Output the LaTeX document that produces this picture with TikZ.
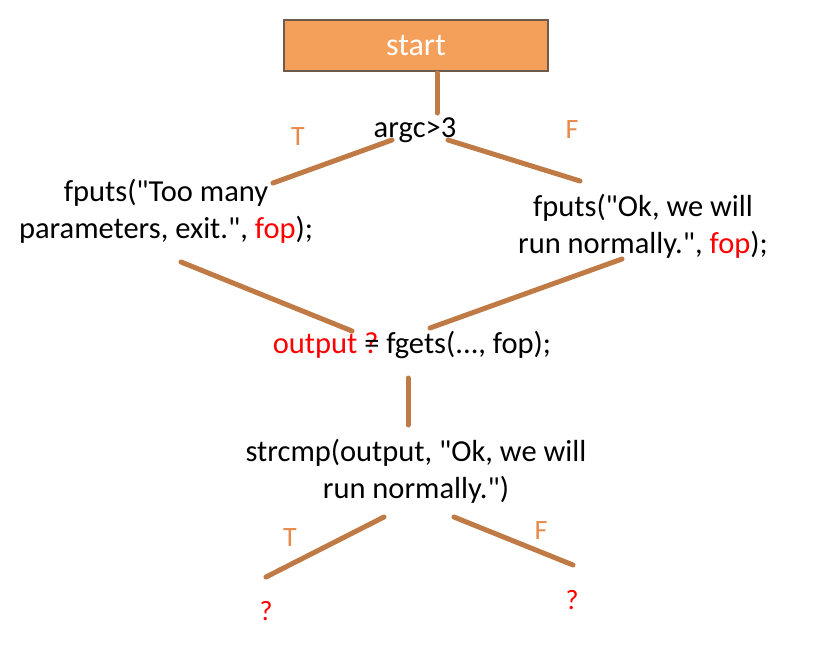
\documentclass[tikz,border=0pt]{standalone}
\usepackage{fontspec}
\setmainfont{Carlito}[Ligatures=TeXOff]
\definecolor{boxfill}{HTML}{F4A05A}
\definecolor{boxdraw}{HTML}{6E5A4A}
\definecolor{linec}{HTML}{C07A45}
\definecolor{tfc}{HTML}{E88A4C}
\definecolor{redc}{HTML}{FF0000}
\begin{document}
\begin{tikzpicture}[x=1pt,y=-1pt,
  txt/.style={font=\fontsize{30.5}{37}\selectfont, inner sep=0pt, align=center},
  tf/.style={font=\fontsize{28}{32}\selectfont, text=tfc, inner sep=0pt},
  qm/.style={font=\fontsize{28}{32}\selectfont, text=redc, inner sep=0pt},
  conn/.style={draw=linec, line width=5pt, line cap=round}]
\useasboundingbox (0,0) rectangle (836,665);
\node[draw=boxdraw, line width=1.2pt, fill=boxfill, minimum width=264pt, minimum height=51pt, inner sep=0pt, font=\fontsize{32}{36}\selectfont, text=white] (start) at (416,45.5) {start};
\node[txt] (argc) at (415,130) {argc>3};
\node[txt] (left) at (166,211) {fputs("Too many\\parameters, exit.", \textcolor{redc}{fop});};
\node[txt] (right) at (643,226) {fputs("Ok, we will\\run normally.", \textcolor{redc}{fop});};
\node[txt] (out) at (412,345) {\textcolor{redc}{output} \rlap{\textcolor{redc}{?}}= fgets(..., fop);};
\node[txt] (cmp) at (416,471) {strcmp(output, "Ok, we will\\run normally.")};
\node[tf] (t1) at (298,137) {T};
\node[tf] (f1) at (572,130) {F};
\node[tf] (t2) at (290,538) {T};
\node[tf] (f2) at (541,531) {F};
\node[qm] (q1) at (266,611) {?};
\node[qm] (q2) at (572,600) {?};
\coordinate (a1) at (437,73);
\coordinate (a2) at (437,113);
\coordinate (b1) at (392,140);
\coordinate (b2) at (273,183);
\coordinate (c1) at (448,140);
\coordinate (c2) at (580,181);
\coordinate (d1) at (181,262);
\coordinate (d2) at (352,331);
\coordinate (e1) at (622,259);
\coordinate (e2) at (430,328);
\coordinate (g1) at (408,378);
\coordinate (g2) at (408,425);
\coordinate (h1) at (384,517);
\coordinate (h2) at (266,577);
\coordinate (k1) at (454,517);
\coordinate (k2) at (573,565);
\draw[conn] (a1) -- (a2);
\draw[conn] (b1) -- (b2);
\draw[conn] (c1) -- (c2);
\draw[conn] (d1) -- (d2);
\draw[conn] (e1) -- (e2);
\draw[conn] (g1) -- (g2);
\draw[conn] (h1) -- (h2);
\draw[conn] (k1) -- (k2);
\end{tikzpicture}
\end{document}
